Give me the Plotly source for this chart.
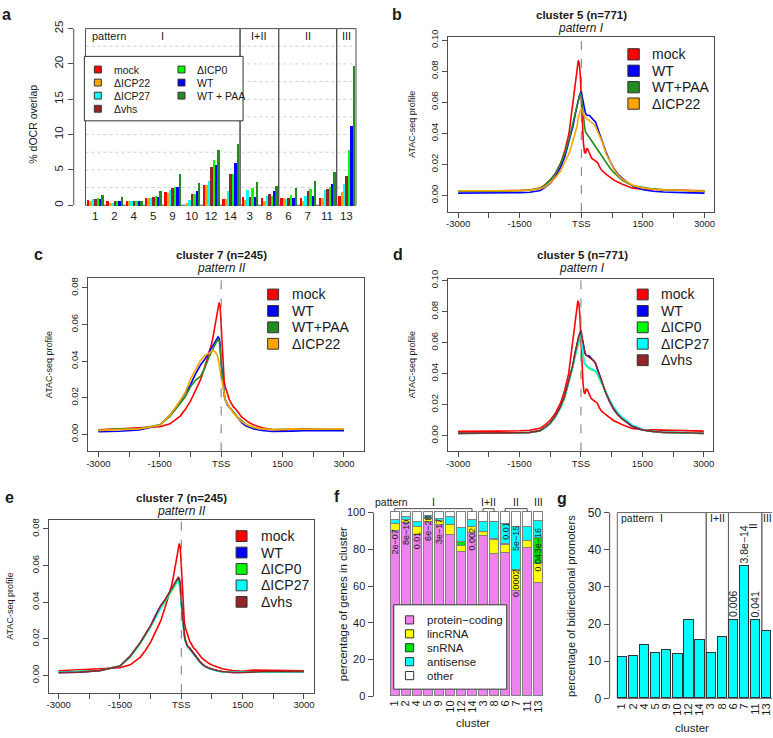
import plotly.graph_objects as go

W, H = 773, 738
FONT = "Liberation Sans, Arial, Helvetica, sans-serif"
INK = "#1a1a1a"
FRAME = "#4d4d4d"

# ---------------- panel a : % dOCR overlap ----------------
clusters = ["1", "2", "4", "5", "9", "10", "12", "14", "3", "8", "6", "7", "11", "13"]
a_mock  = [0.83, 0.60, 0.60, 1.06, 1.94, 0.00, 2.90, 0.93, 1.25, 1.00, 1.00, 1.00, 1.10, 1.40]
a_icp22 = [0.60, 0.32, 0.60, 1.06, 1.76, 0.37, 2.90, 0.93, 0.83, 0.60, 1.00, 0.60, 1.00, 1.90]
a_icp27 = [0.93, 0.32, 0.60, 1.06, 2.20, 0.83, 3.50, 2.10, 2.20, 1.30, 0.90, 1.30, 2.20, 3.00]
a_vhs   = [0.93, 0.60, 0.60, 1.16, 2.50, 1.60, 5.40, 4.50, 1.25, 1.60, 1.10, 2.00, 2.40, 4.20]
a_icp0  = [1.00, 0.60, 0.60, 1.39, 2.60, 1.60, 6.40, 4.50, 2.55, 1.30, 1.50, 2.30, 2.60, 7.80]
a_wt    = [0.93, 0.60, 0.60, 1.16, 2.60, 2.00, 5.80, 6.00, 1.25, 2.00, 1.10, 1.30, 3.10, 11.20]
a_paa   = [1.48, 1.25, 0.60, 2.04, 4.50, 3.24, 7.80, 8.66, 3.40, 2.80, 2.50, 3.50, 4.80, 19.80]
a_names = ["mock", "ΔICP22", "ΔICP27", "Δvhs", "ΔICP0", "WT", "WT + PAA"]
a_yticks = [0, 5, 10, 15, 20, 25]

# ---------------- ATAC-seq profiles ----------------
bp = [-3000, -2500, -2000, -1500, -1250, -1000, -875, -750, -625, -500,
      -400, -300, -250, -200, -150, -100, -75, -50, -25, 0,
      25, 50, 75, 100, 125, 150, 200, 250, 300, 350,
      400, 450, 500, 600, 700, 800, 900, 1000, 1250, 1500,
      1750, 2000, 2500, 3000]

c5_mock = [0.0028, 0.0027, 0.0030, 0.0032, 0.0035, 0.0048, 0.0070, 0.0100, 0.0145, 0.0210,
           0.0290, 0.0400, 0.0500, 0.0600, 0.0710, 0.0820, 0.0870, 0.0850, 0.0770, 0.0620,
           0.0450, 0.0340, 0.0280, 0.0270, 0.0300, 0.0300, 0.0270, 0.0240, 0.0230, 0.0220,
           0.0210, 0.0180, 0.0160, 0.0137, 0.0115, 0.0097, 0.0085, 0.0072, 0.0047, 0.0040,
           0.0038, 0.0036, 0.0033, 0.0030]
c5_wt = [0.0015, 0.0015, 0.0016, 0.0018, 0.0021, 0.0032, 0.0053, 0.0080, 0.0123, 0.0185,
         0.0250, 0.0350, 0.0400, 0.0450, 0.0520, 0.0570, 0.0610, 0.0640, 0.0660, 0.0670,
         0.0630, 0.0590, 0.0550, 0.0530, 0.0520, 0.0515, 0.0515, 0.0500, 0.0480, 0.0470,
         0.0430, 0.0390, 0.0360, 0.0280, 0.0220, 0.0170, 0.0135, 0.0110, 0.0060, 0.0037,
         0.0027, 0.0022, 0.0018, 0.0015]
c5_paa = [0.0027, 0.0026, 0.0027, 0.0030, 0.0035, 0.0046, 0.0070, 0.0102, 0.0145, 0.0210,
          0.0270, 0.0360, 0.0410, 0.0470, 0.0530, 0.0590, 0.0620, 0.0650, 0.0660, 0.0640,
          0.0590, 0.0520, 0.0450, 0.0410, 0.0400, 0.0390, 0.0370, 0.0350, 0.0330, 0.0310,
          0.0290, 0.0270, 0.0250, 0.0210, 0.0175, 0.0145, 0.0120, 0.0098, 0.0062, 0.0050,
          0.0042, 0.0037, 0.0032, 0.0027]
c5_icp22 = [0.0030, 0.0028, 0.0030, 0.0032, 0.0035, 0.0043, 0.0057, 0.0084, 0.0116, 0.0160,
            0.0210, 0.0270, 0.0310, 0.0360, 0.0410, 0.0450, 0.0500, 0.0530, 0.0550, 0.0558,
            0.0540, 0.0520, 0.0510, 0.0500, 0.0495, 0.0490, 0.0485, 0.0475, 0.0460, 0.0440,
            0.0410, 0.0380, 0.0350, 0.0270, 0.0215, 0.0165, 0.0128, 0.0105, 0.0066, 0.0047,
            0.0040, 0.0036, 0.0032, 0.0027]
c5_icp0 = [0.0015, 0.0015, 0.0016, 0.0018, 0.0021, 0.0031, 0.0052, 0.0078, 0.0120, 0.0180,
           0.0245, 0.0340, 0.0390, 0.0440, 0.0505, 0.0555, 0.0590, 0.0615, 0.0630, 0.0640,
           0.0580, 0.0520, 0.0475, 0.0460, 0.0450, 0.0445, 0.0435, 0.0430, 0.0425, 0.0415,
           0.0395, 0.0370, 0.0345, 0.0285, 0.0225, 0.0178, 0.0142, 0.0115, 0.0064, 0.0039,
           0.0028, 0.0022, 0.0018, 0.0015]
c5_icp27 = [0.0016, 0.0016, 0.0017, 0.0019, 0.0022, 0.0032, 0.0053, 0.0080, 0.0122, 0.0183,
            0.0248, 0.0345, 0.0395, 0.0445, 0.0510, 0.0565, 0.0600, 0.0630, 0.0645, 0.0650,
            0.0590, 0.0530, 0.0480, 0.0465, 0.0455, 0.0450, 0.0440, 0.0435, 0.0430, 0.0420,
            0.0400, 0.0375, 0.0350, 0.0290, 0.0232, 0.0185, 0.0150, 0.0122, 0.0070, 0.0042,
            0.0030, 0.0024, 0.0020, 0.0017]
c5_vhs = [0.0017, 0.0017, 0.0017, 0.0019, 0.0022, 0.0033, 0.0055, 0.0082, 0.0126, 0.0188,
          0.0255, 0.0355, 0.0405, 0.0455, 0.0525, 0.0575, 0.0615, 0.0645, 0.0670, 0.0680,
          0.0640, 0.0595, 0.0555, 0.0530, 0.0520, 0.0515, 0.0510, 0.0500, 0.0485, 0.0470,
          0.0430, 0.0392, 0.0360, 0.0282, 0.0222, 0.0172, 0.0137, 0.0111, 0.0062, 0.0038,
          0.0028, 0.0023, 0.0019, 0.0016]

c7_mock = [0.0025, 0.0030, 0.0033, 0.0042, 0.0058, 0.0100, 0.0137, 0.0182, 0.0240, 0.0300,
           0.0370, 0.0440, 0.0480, 0.0530, 0.0600, 0.0660, 0.0700, 0.0720, 0.0700, 0.0600,
           0.0470, 0.0370, 0.0290, 0.0260, 0.0240, 0.0220, 0.0190, 0.0170, 0.0150, 0.0140,
           0.0127, 0.0110, 0.0095, 0.0078, 0.0062, 0.0052, 0.0044, 0.0036, 0.0027, 0.0023,
           0.0029, 0.0029, 0.0028, 0.0025]
c7_wt = [0.0015, 0.0017, 0.0025, 0.0050, 0.0105, 0.0180, 0.0225, 0.0270, 0.0330, 0.0380,
         0.0410, 0.0450, 0.0470, 0.0490, 0.0510, 0.0530, 0.0532, 0.0525, 0.0490, 0.0400,
         0.0330, 0.0280, 0.0220, 0.0190, 0.0175, 0.0160, 0.0150, 0.0135, 0.0118, 0.0105,
         0.0090, 0.0075, 0.0064, 0.0047, 0.0037, 0.0030, 0.0025, 0.0021, 0.0016, 0.0015,
         0.0018, 0.0020, 0.0020, 0.0020]
c7_paa = [0.0022, 0.0030, 0.0032, 0.0052, 0.0098, 0.0170, 0.0205, 0.0260, 0.0295, 0.0318,
          0.0362, 0.0420, 0.0447, 0.0465, 0.0490, 0.0515, 0.0520, 0.0510, 0.0470, 0.0386,
          0.0320, 0.0270, 0.0210, 0.0190, 0.0175, 0.0170, 0.0150, 0.0135, 0.0125, 0.0110,
          0.0095, 0.0085, 0.0075, 0.0056, 0.0045, 0.0036, 0.0032, 0.0030, 0.0027, 0.0028,
          0.0030, 0.0029, 0.0028, 0.0028]
c7_icp22 = [0.0022, 0.0028, 0.0030, 0.0050, 0.0105, 0.0185, 0.0230, 0.0300, 0.0350, 0.0405,
            0.0430, 0.0445, 0.0453, 0.0457, 0.0452, 0.0435, 0.0415, 0.0380, 0.0350, 0.0314,
            0.0270, 0.0240, 0.0210, 0.0190, 0.0175, 0.0165, 0.0150, 0.0135, 0.0115, 0.0105,
            0.0090, 0.0080, 0.0070, 0.0055, 0.0046, 0.0038, 0.0033, 0.0030, 0.0026, 0.0027,
            0.0030, 0.0028, 0.0030, 0.0030]
c7_icp0 = [0.0017, 0.0020, 0.0027, 0.0052, 0.0100, 0.0175, 0.0220, 0.0265, 0.0320, 0.0370,
           0.0400, 0.0440, 0.0460, 0.0480, 0.0500, 0.0512, 0.0515, 0.0505, 0.0470, 0.0385,
           0.0320, 0.0270, 0.0215, 0.0185, 0.0170, 0.0158, 0.0145, 0.0130, 0.0115, 0.0100,
           0.0088, 0.0074, 0.0062, 0.0046, 0.0036, 0.0029, 0.0024, 0.0020, 0.0017, 0.0018,
           0.0020, 0.0021, 0.0021, 0.0021]
c7_icp27 = [0.0018, 0.0021, 0.0027, 0.0051, 0.0102, 0.0178, 0.0222, 0.0266, 0.0318, 0.0368,
            0.0402, 0.0442, 0.0462, 0.0482, 0.0502, 0.0510, 0.0512, 0.0500, 0.0465, 0.0380,
            0.0315, 0.0268, 0.0212, 0.0183, 0.0168, 0.0156, 0.0143, 0.0128, 0.0113, 0.0099,
            0.0087, 0.0073, 0.0061, 0.0045, 0.0035, 0.0028, 0.0023, 0.0019, 0.0017, 0.0017,
            0.0019, 0.0020, 0.0020, 0.0020]
c7_vhs = [0.0016, 0.0018, 0.0026, 0.0051, 0.0104, 0.0180, 0.0226, 0.0272, 0.0327, 0.0382,
          0.0412, 0.0452, 0.0472, 0.0492, 0.0512, 0.0530, 0.0535, 0.0528, 0.0495, 0.0410,
          0.0335, 0.0282, 0.0222, 0.0190, 0.0176, 0.0160, 0.0150, 0.0134, 0.0117, 0.0104,
          0.0090, 0.0075, 0.0064, 0.0047, 0.0037, 0.0030, 0.0025, 0.0021, 0.0016, 0.0016,
          0.0019, 0.0021, 0.0021, 0.0021]

bp_ticks = [-3000, -2250, -1500, -750, 0, 750, 1500, 2250, 3000]
bp_ticktext = ["-3000", "", "-1500", "", "TSS", "", "1500", "", "3000"]

# ---------------- panel f : gene types ----------------
gene_types = ["protein\u2212coding", "lincRNA", "snRNA", "antisense", "other"]
f_protein   = [89.9, 94.1, 87.9, 94.5, 92.9, 87.5, 78.3, 89.0, 87.2, 77.2, 77.8, 57.3, 80.4, 61.7]
f_linc      = [3.7, 1.5, 3.9, 1.8, 2.3, 5.4, 3.6, 3.3, 2.1, 7.5, 4.4, 10.7, 3.9, 10.2]
f_snrna     = [0.0, 0.0, 0.0, 0.4, 0.0, 0.0, 2.1, 0.0, 0.0, 0.6, 0.7, 0.9, 0.0, 13.9]
f_antisense = [2.3, 2.1, 2.9, 1.5, 1.2, 4.4, 7.5, 3.8, 5.4, 9.3, 10.9, 23.1, 7.7, 9.6]
f_other     = [4.1, 2.3, 5.3, 1.8, 3.6, 2.7, 8.5, 3.9, 5.3, 5.4, 6.2, 8.0, 8.0, 4.6]
f_pvalues = [("1", "2e\u221207", 84.1), ("2", "8e\u221210", 89.3), ("4", "0.01", 84.9),
             ("5", "6e\u221228", 91.6), ("9", "3e\u221217", 89.9), ("14", "0.002", 85.4),
             ("6", "0.01", 90.2), ("7", "5e\u221215", 85.7), ("7", "0.0002", 61.7),
             ("13", "3e\u221216", 84.5), ("13", "0.04", 73.0)]
f_yticks = [0, 20, 40, 60, 80, 100]

# ---------------- panel g : bidirectional promoters ----------------
g_bidir = [11.1, 11.4, 14.3, 12.1, 13.0, 11.7, 21.0, 15.7, 12.0, 16.4, 21.1, 35.5, 21.0, 18.1]
g_pvalues = {"6": "0.006", "7": "3.8e\u221214", "11": "0.041"}
g_yticks = [0, 10, 20, 30, 40, 50]

patterns = ["I", "I+II", "II", "III"]
pattern_clusters = [["1", "2", "4", "5", "9", "10", "12", "14"], ["3", "8"], ["6", "7", "11"], ["13"]]

COL = {"mock": "#FF0000", "ΔICP22": "#FFA500", "ΔICP27": "#00FFFF", "Δvhs": "#952525",
       "ΔICP0": "#00FF00", "WT": "#0000FF", "WT + PAA": "#228B22", "WT+PAA": "#228B22"}
GCOL = ["#EE82EE", "#FFFF00", "#00E000", "#00FFFF", "#FFFFFF"]

# ================= helpers =================
def fx(p):
    return p / W


def fy(p):
    return 1 - p / H


def xdom(a, b):
    return [a / W, b / W]


def ydom(top, bottom):
    return [1 - bottom / H, 1 - top / H]


annotations = []
shapes = []


def label(t, x, y, size=11, xa="center", ya="middle", angle=0, xref="paper", yref="paper", color=INK):
    annotations.append(dict(text=t, x=fx(x) if xref == "paper" else x, y=fy(y) if yref == "paper" else y,
                            xref=xref, yref=yref, xanchor=xa, yanchor=ya, textangle=angle, showarrow=False,
                            font=dict(family=FONT, size=size, color=color)))


def line(x0, y0, x1, y1, xref, yref, color=FRAME, width=1, dash="solid", layer="above"):
    shapes.append(dict(type="line", x0=x0, y0=y0, x1=x1, y1=y1, xref=xref, yref=yref,
                       line=dict(color=color, width=width, dash=dash), layer=layer))


def rect(x0, y0, x1, y1, xref, yref, color=FRAME, width=1, fill="rgba(0,0,0,0)", layer="above"):
    shapes.append(dict(type="rect", x0=x0, y0=y0, x1=x1, y1=y1, xref=xref, yref=yref,
                       line=dict(color=color, width=width), fillcolor=fill, layer=layer))


def legend(items, sq_left, sq_size, text_left, rows, size):
    for (name, col), yc in zip(items, rows):
        rect(fx(sq_left), fy(yc - sq_size / 2), fx(sq_left + sq_size), fy(yc + sq_size / 2),
             "paper", "paper", color="#333333", width=1, fill=col)
        label(name, text_left, yc, size=size, xa="left")


fig = go.Figure()

# ================= panel a =================
a_series = [a_mock, a_icp22, a_icp27, a_vhs, a_icp0, a_wt, a_paa]
for j, (name, vals) in enumerate(zip(a_names, a_series)):
    fig.add_trace(go.Bar(x=[8 * k + 1.5 + j for k in range(len(clusters))], y=vals, width=1,
                         marker=dict(color=COL[name], line=dict(width=0)), xaxis="x", yaxis="y",
                         showlegend=False, hoverinfo="skip"))
for v in [2.5 * i for i in range(1, 10)]:
    line(0.5, v, 112.5, v, "x", "y", color="#d0d0d0", width=1, dash="dot", layer="below")
line(0, 0, 0, 25, "x domain", "y", color=FRAME)
edges_a = [0.5]
for grp in pattern_clusters:
    edges_a.append(edges_a[-1] + 8 * len(grp))
for i, pat in enumerate(patterns):
    rect(edges_a[i], 0, edges_a[i + 1], 25, "x", "y", color=FRAME, layer="below")
    label(pat, (edges_a[i] + edges_a[i + 1]) / 2, 27.5, size=11, xref="x")
label("pattern", 88, 27.5, size=11, xa="left")
rect(fx(82.7), fy(48.3), fx(242), fy(114), "paper", "paper", color="#333333", fill="white")
legend([(n, COL[n]) for n in a_names[:4]], 92.7, 7, 110, [61.7, 75, 88.3, 101.7], 10.5)
legend([(n, COL[n]) for n in a_names[4:]], 176.7, 7, 193.3, [61.7, 75, 88.3], 10.5)
label("% dOCR overlap", 31, 117, size=10.5, angle=-90)
label("<b>a</b>", 5, 6, size=16)

# ================= profile panels =================
profile_panels = [
    ("2", (448, 715), (29, 207), [-3240, 3235], [-0.0107, 0.1017], [0, 0.02, 0.04, 0.06, 0.08, 0.10],
     [("mock", c5_mock), ("WT", c5_wt), ("WT+PAA", c5_paa), ("ΔICP22", c5_icp22)],
     "cluster 5 (n=771)", "pattern I", 581.7, 6.5, (628.3, 11.5, 650.7, 46.2), 411.7, ("b", 396.7, 6)),
    ("3", (86, 363), (274, 451), [-3260, 3479], [-0.0093, 0.0855], [0, 0.02, 0.04, 0.06, 0.08],
     [("mock", c7_mock), ("WT", c7_wt), ("WT+PAA", c7_paa), ("ΔICP22", c7_icp22)],
     "cluster 7 (n=245)", "pattern II", 220, 250.5, (266.7, 11, 289.3, 291), 46.7, ("c", 36.7, 250.5)),
    ("4", (448, 714), (275, 451), [-3240, 3230], [-0.0101, 0.1011], [0, 0.02, 0.04, 0.06, 0.08, 0.10],
     [("mock", c5_mock), ("WT", c5_wt), ("ΔICP0", c5_icp0), ("ΔICP27", c5_icp27), ("Δvhs", c5_vhs)],
     "cluster 5 (n=771)", "pattern I", 582.3, 250.5, (637.7, 11, 660, 291), 411.7, ("d", 397.3, 250.5)),
    ("5", (47, 313), (521, 697), [-3240, 3240], [-0.0095, 0.0848], [0, 0.02, 0.04, 0.06, 0.08],
     [("mock", c7_mock), ("WT", c7_wt), ("ΔICP0", c7_icp0), ("ΔICP27", c7_icp27), ("Δvhs", c7_vhs)],
     "cluster 7 (n=245)", "pattern II", 180, 498.3, (235, 11, 258.3, 537.3), 8.3, ("e", 7.3, 498)),
]

layout_axes = {}
for (aid, xd, yd, xr, yr, yt, curves, title, pat, tx, ty, leg, ytx, letter) in profile_panels:
    for name, vals in curves:
        fig.add_trace(go.Scatter(x=bp, y=vals, mode="lines", line=dict(color=COL[name], width=1.6),
                                 xaxis="x" + aid, yaxis="y" + aid, showlegend=False, hoverinfo="skip"))
    layout_axes["xaxis" + aid] = dict(domain=xdom(*xd), range=xr, tickmode="array", tickvals=bp_ticks,
                                      ticktext=bp_ticktext, ticks="outside", ticklen=5, tickcolor=FRAME,
                                      showline=True, mirror=True, linecolor=FRAME, linewidth=1,
                                      showgrid=False, zeroline=False, anchor="y" + aid,
                                      ticklabelstandoff=-2,
                                      tickfont=dict(family=FONT, size=9.5, color=INK))
    layout_axes["yaxis" + aid] = dict(domain=ydom(*yd), range=yr, tickmode="array", tickvals=yt,
                                      ticktext=["%.2f" % v for v in yt], tickangle=-90, ticks="outside",
                                      ticklen=5, tickcolor=FRAME, showline=True, mirror=True,
                                      linecolor=FRAME, linewidth=1, showgrid=False, zeroline=False,
                                      anchor="x" + aid, tickfont=dict(family=FONT, size=9.5, color=INK))
    line(0, 0, 0, 1, "x" + aid, "y" + aid + " domain", color="#777777", width=1, dash="dash")
    label("<b>" + title + "</b>", tx, ty, size=11.5)
    label("<i>" + pat + "</i>", tx, ty + 13, size=12)
    sq_left, sq, txt_left, row0 = leg
    legend([(n, COL[n]) for n, _ in curves], sq_left, sq, txt_left,
           [row0 + 16.75 * i for i in range(len(curves))], 14)
    label("ATAC-seq profile", ytx, (yd[0] + yd[1]) / 2, size=9, angle=-90)
    label("<b>" + letter[0] + "</b>", letter[1], letter[2], size=16)

# ================= panel f =================
f_x = [1.2 * i + 0.7 for i in range(len(clusters))]
for name, vals, col in zip(gene_types, [f_protein, f_linc, f_snrna, f_antisense, f_other], GCOL):
    fig.add_trace(go.Bar(x=f_x, y=vals, width=1, marker=dict(color=col, line=dict(color="#808080", width=1)),
                         xaxis="x6", yaxis="y6", showlegend=False, hoverinfo="skip"))
line(0, 0, 0, 100, "x6 domain", "y6", color=FRAME)
for cl, txt, yv in f_pvalues:
    label(txt, f_x[clusters.index(cl)], yv, size=9, angle=-90, xref="x6", yref="y6")
rect(fx(393.3), fy(607.3), fx(506.7), fy(693.3), "paper", "paper", color="#333333", fill="white")
legend(list(zip(gene_types, GCOL)), 405, 8.3, 425, [622.7, 636.9, 651.1, 665.3, 679.5], 11.5)
label("pattern", 372, 503, size=10.5, xa="left")
for pat, grp in zip(patterns, pattern_clusters):
    xs = [f_x[clusters.index(c)] for c in grp]
    if len(xs) > 1:
        line(xs[0], fy(509.3), xs[-1], fy(509.3), "x6", "paper", color=FRAME)
        line(xs[0], fy(509.3), xs[0], fy(512.5), "x6", "paper", color=FRAME)
        line(xs[-1], fy(509.3), xs[-1], fy(512.5), "x6", "paper", color=FRAME)
    label(pat, (xs[0] + xs[-1]) / 2, 503, size=10.5, xref="x6")
label("percentage of genes in cluster", 343, 607, size=11.5, angle=-90)
label("cluster", 473, 728.3, size=11.5)
label("<b>f</b>", 336.7, 497, size=16)

# ================= panel g =================
g_x = [1.2 * i + 0.7 for i in range(len(clusters))]
fig.add_trace(go.Bar(x=g_x, y=g_bidir, width=1, marker=dict(color="#00FFFF", line=dict(color="#333333", width=1)),
                     xaxis="x7", yaxis="y7", showlegend=False, hoverinfo="skip"))
line(0, 0, 0, 50, "x7 domain", "y7", color=FRAME)
g_edges = [0.2]
for grp in pattern_clusters:
    g_edges.append(g_edges[-1] + 1.2 * len(grp))
for i, pat in enumerate(patterns):
    rect(g_edges[i], 0, g_edges[i + 1], 50, "x7", "y7", color="#666666", layer="below")
    if pat != "II":
        label(pat, (g_edges[i] + g_edges[i + 1]) / 2, 519, size=10.5, xref="x7")
label("pattern", 619, 519, size=10.5, xa="left")
label("II", 754, 527, size=10.5, angle=-90)
for cl, txt in g_pvalues.items():
    i = clusters.index(cl)
    annotations.append(dict(text=txt, x=g_x[i], y=g_bidir[i] + 0.3, xref="x7", yref="y7", xanchor="center",
                            yanchor="bottom", textangle=-90, showarrow=False,
                            font=dict(family=FONT, size=10.5, color=INK)))
label("percentage of bidirectional promoters", 571.7, 608, size=11, angle=-90)
label("cluster", 693, 733, size=11.5)
label("<b>g</b>", 561.7, 499, size=16)

layout_axes["xaxis"] = dict(domain=xdom(72, 372), range=[-4.36, 119.35], tickmode="array",
                            tickvals=[8 * k + 4.5 for k in range(len(clusters))], ticktext=clusters,
                            ticks="", showline=False, showgrid=False, zeroline=False, anchor="y",
                            tickfont=dict(family=FONT, size=11.5, color=INK))
layout_axes["yaxis"] = dict(domain=ydom(18, 202), range=[-0.278, 25.278], tickmode="array", tickvals=a_yticks,
                            tickangle=-90, ticks="outside", ticklen=5, tickcolor=FRAME, showline=False,
                            showgrid=False, zeroline=False, anchor="x",
                            tickfont=dict(family=FONT, size=11.5, color=INK))
layout_axes["xaxis6"] = dict(domain=xdom(373, 547), range=[-1.608, 17.24], tickmode="array", tickvals=f_x,
                             ticktext=clusters, tickangle=-90, ticks="", showline=False, showgrid=False,
                             zeroline=False, anchor="y6", tickfont=dict(family=FONT, size=11, color=INK))
layout_axes["yaxis6"] = dict(domain=ydom(505.8, 701.6), range=[-0.5, 104], tickmode="array", tickvals=f_yticks,
                             ticks="outside", ticklen=5, tickcolor=FRAME, showline=False, showgrid=False,
                             zeroline=False, anchor="x6", tickfont=dict(family=FONT, size=11, color=INK))
layout_axes["xaxis7"] = dict(domain=xdom(610, 773), range=[-0.628, 16.9], tickmode="array", tickvals=g_x,
                             ticktext=clusters, tickangle=-90, ticks="", showline=False, showgrid=False,
                             zeroline=False, anchor="y7", tickfont=dict(family=FONT, size=11, color=INK))
layout_axes["yaxis7"] = dict(domain=ydom(505, 704.6), range=[-0.5, 52.19], tickmode="array", tickvals=g_yticks,
                             ticks="outside", ticklen=5, tickcolor=FRAME, showline=False, showgrid=False,
                             zeroline=False, anchor="x7", tickfont=dict(family=FONT, size=12, color=INK))

fig.update_layout(width=W, height=H, margin=dict(l=0, r=0, t=0, b=0), paper_bgcolor="white",
                  plot_bgcolor="rgba(0,0,0,0)", barmode="stack", bargap=0, showlegend=False,
                  font=dict(family=FONT, color=INK), annotations=annotations, shapes=shapes, **layout_axes)

fig.write_html("out.html")
